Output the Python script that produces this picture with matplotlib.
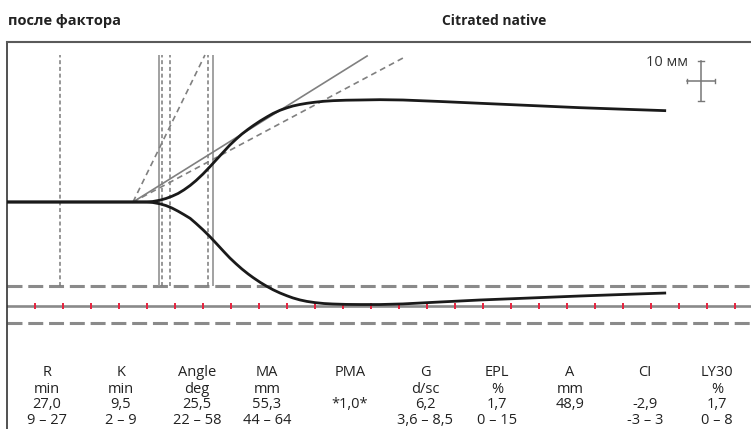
"""TEG trace (Citrated native) redrawn with matplotlib."""
import matplotlib
matplotlib.use("Agg")
import matplotlib.pyplot as plt
from matplotlib import font_manager

# time in minutes, amplitude in mm
trace_t = [0, 47.5, 50, 52.1, 54.6, 56.8, 58.9, 61.1, 63.2, 65.4, 67.5, 70,
           72.5, 75, 77.5, 79.6, 81.8, 83.9, 86.1, 87.9, 90.4, 92.9, 95, 97.5,
           100, 102.1, 104.6, 107.1, 110, 113.2, 116.4, 121.1, 126.1, 133.2,
           141.4, 154.6, 168.9, 186.8, 204.6, 220.7, 235.4]
trace_upper = [0, 0, 0.03, 0.13, 0.45, 0.88, 1.43, 2.13, 3.03, 4.13, 5.35,
               7.0, 8.83, 10.75, 12.65, 14.25, 15.7, 17.0, 18.18, 19.08, 20.25,
               21.3, 22.13, 22.93, 23.55, 24.0, 24.38, 24.68, 24.95, 25.18,
               25.33, 25.45, 25.5, 25.58, 25.5, 25.13, 24.68, 24.13, 23.58,
               23.18, 22.83]
trace_lower = [0, 0, -0.03, -0.13, -0.45, -0.9, -1.5, -2.3, -3.15, -4.08,
               -5.35, -6.95, -8.68, -10.55, -12.45, -14.0, -15.45, -16.75,
               -17.98, -18.9, -20.08, -21.13, -21.93, -22.75, -23.45, -23.98,
               -24.48, -24.85, -25.15, -25.38, -25.5, -25.6, -25.63, -25.63,
               -25.48, -25.0, -24.5, -24.0, -23.5, -23.1, -22.75]

# vertical markers (min) and their style
marker_t = [18.9, 54.4, 55.25, 58.2, 71.9, 73.5]
marker_solid = [False, True, False, False, False, True]

# tangent lines from the split point
tangent_start = (45.0, 0.0)
tangent_end_t = [70.7, 128.6, 142.1]
tangent_end_a = [36.75, 36.5, 36.25]
tangent_solid = [False, True, False]

tick_minutes = list(range(10, 261, 10))

param_names = ["R", "K", "Angle", "MA", "PMA", "G", "EPL", "A", "CI", "LY30"]
param_units = ["min", "min", "deg", "mm", "", "d/sc", "%", "mm", "", "%"]
param_values = ["27,0", "9,5", "25,5", "55,3", "*1,0*", "6,2", "1,7", "48,9", "-2,9", "1,7"]
param_ranges = ["9 – 27", "2 – 9", "22 – 58", "44 – 64", "", "3,6 – 8,5", "0 – 15", "", "-3 – 3", "0 – 8"]
param_x = [47, 121, 197, 267, 350, 425, 497, 570, 645, 717]

W, H = 751, 429


def pick_font(names):
    have = {f.name for f in font_manager.fontManager.ttflist}
    for n in names:
        if n in have:
            return n
    return "DejaVu Sans"


narrow = pick_font(["Liberation Sans Narrow", "Open Sans", "DejaVu Sans"])
plt.rcParams["font.family"] = [narrow, "DejaVu Sans"]

fig = plt.figure(figsize=(W / 100, H / 100), dpi=100)
ax = fig.add_axes([7 / W, 0, 744 / W, 387 / H])
ax.set_xlim(0, 744 / 2.8)
ax.set_ylim(-56.75, 40)
ax.set_xticks([])
ax.set_yticks([])
for side in ("right", "bottom"):
    ax.spines[side].set_visible(False)
ax.spines["top"].set_color("#5a5a5a")
ax.spines["top"].set_linewidth(1.5)
ax.spines["left"].set_color("#333333")
ax.spines["left"].set_linewidth(1.2)

gray = "#8a8a8a"

# reference band
for y in (-20.9, -30.2):
    ax.axhline(y, color=gray, lw=2.2, ls=(0, (4.9, 1.9)), zorder=1)
ax.axhline(-26, color=gray, lw=1.9, zorder=1)
ax.vlines(tick_minutes, -26.8, -25.2, color="#e8223e", lw=1.4, zorder=2)

# vertical markers
for t, solid in zip(marker_t, marker_solid):
    if solid:
        ax.vlines(t, -21, 36.75, color="#9a9a9a", lw=1.3, zorder=2)
    else:
        ax.vlines(t, -21, 36.75, color="#7a7a7a", lw=1.1, ls=(0, (2.6, 1.8)), zorder=2)

# tangents
for te, ae, solid in zip(tangent_end_t, tangent_end_a, tangent_solid):
    ax.plot([tangent_start[0], te], [tangent_start[1], ae], color="#808080",
            lw=1.2, ls="-" if solid else (0, (3.5, 2.5)), zorder=3)

# trace
ax.plot(trace_t, trace_upper, color="#1a1a1a", lw=2.0, solid_capstyle="butt",
        solid_joinstyle="round", zorder=4)
ax.plot(trace_t, trace_lower, color="#1a1a1a", lw=2.0, solid_capstyle="butt",
        solid_joinstyle="round", zorder=4)

# scale cross: 10 min x 10 mm
cx, cy = 247.9, 30.25
ax.plot([cx - 5, cx + 5], [cy, cy], color="#777777", lw=1.1)
ax.plot([cx, cx], [cy - 5, cy + 5], color="#777777", lw=1.1)
for px in (cx - 5, cx + 5):
    ax.plot([px, px], [cy - 0.6, cy + 0.6], color="#777777", lw=1.0)
for py in (cy - 5, cy + 5):
    ax.plot([cx - 1.0, cx + 1.0], [py, py], color="#777777", lw=1.0)
ax.text(243.2, 34.75, "10 мм", ha="right", va="center", fontsize=10.5, color="#333333")

# titles
fig.text(8 / W, 1 - 21 / H, "после фактора", fontsize=10.5, fontweight="bold",
         ha="left", va="center", color="#222222")
fig.text(494 / W, 1 - 21 / H, "Citrated native", fontsize=10, fontweight="bold",
         ha="center", va="center", color="#222222")

# parameter table
rows = [param_names, param_units, param_values, param_ranges]
row_y = [373, 389.5, 405, 420]
for row, y in zip(rows, row_y):
    for x, s in zip(param_x, row):
        if s:
            fig.text(x / W, 1 - y / H, s, fontsize=10.5, ha="center", va="center",
                     color="#222222")

fig.savefig("out.png", dpi=100)
